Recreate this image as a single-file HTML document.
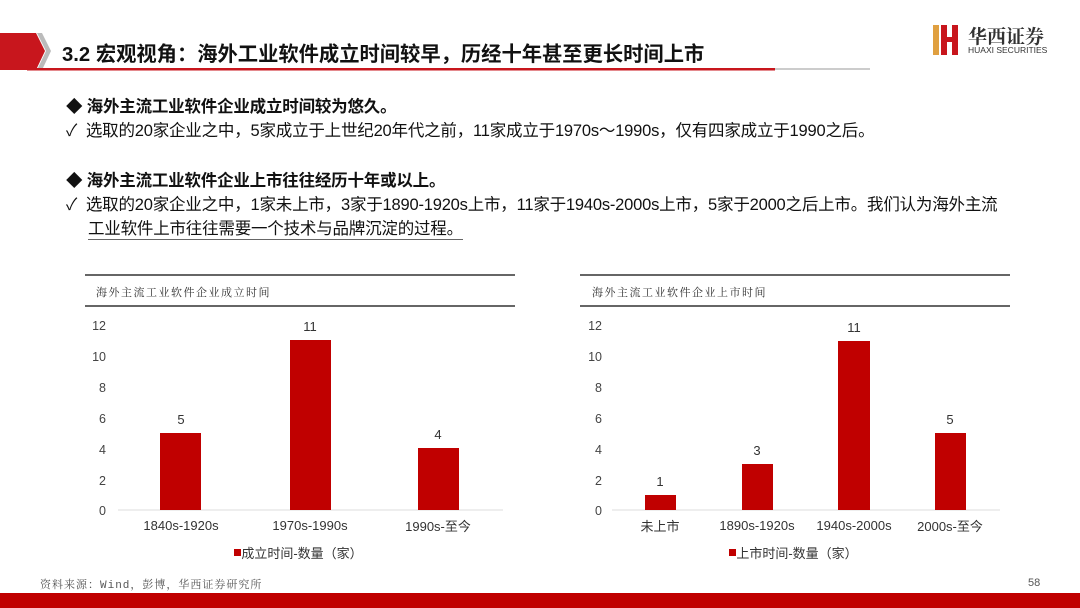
<!DOCTYPE html>
<html><head><meta charset="utf-8"><style>
body{margin:0;width:1080px;height:608px;position:relative;background:#fff;overflow:hidden;font-family:"Liberation Sans","Noto Sans CJK SC",sans-serif;color:#111}
.a{position:absolute;white-space:nowrap}
.t{font-size:16.5px;letter-spacing:-0.2px;line-height:20px}
.b{font-weight:bold}
</style></head><body>
<svg class="a" style="left:0;top:0" width="1080" height="608">
<polygon points="0,33 36,33 45,51 36,70 0,70" fill="#c8161d"/>
<polygon points="37,33 42,33 51,51 42,70 37,70 46,51" fill="#bbb"/>
<rect x="27" y="68" width="748" height="2.5" fill="#c8161d"/>
<rect x="775" y="68" width="95" height="2" fill="#ccc"/>
<rect x="933" y="25" width="6" height="30" fill="#e0a040"/>
<rect x="941" y="25" width="6" height="30" fill="#c8161d"/>
<rect x="952" y="25" width="6" height="30" fill="#c8161d"/>
<rect x="941" y="37" width="17" height="5" fill="#c8161d"/>
<line x1="85" y1="275" x2="515" y2="275" stroke="#333" stroke-width="1.5"/>
<line x1="85" y1="306" x2="515" y2="306" stroke="#333" stroke-width="1.5"/>
<line x1="580" y1="275" x2="1010" y2="275" stroke="#333" stroke-width="1.5"/>
<line x1="580" y1="306" x2="1010" y2="306" stroke="#333" stroke-width="1.5"/>
<line x1="118" y1="510" x2="503" y2="510" stroke="#ddd"/>
<line x1="612" y1="510" x2="1000" y2="510" stroke="#ddd"/>
<g fill="#c00000">
<rect x="160" y="433" width="41" height="77"/>
<rect x="290" y="340" width="41" height="170"/>
<rect x="418" y="448" width="41" height="62"/>
<rect x="645" y="495" width="31" height="15"/>
<rect x="742" y="464" width="31" height="46"/>
<rect x="838" y="341" width="32" height="169"/>
<rect x="935" y="433" width="31" height="77"/>
<rect x="234" y="549" width="7" height="7"/>
<rect x="729" y="549" width="7" height="7"/>
</g>
<g font-size="12.5" fill="#444" text-anchor="end">
<text x="106" y="330">12</text><text x="106" y="361">10</text><text x="106" y="392">8</text><text x="106" y="423">6</text><text x="106" y="454">4</text><text x="106" y="485">2</text><text x="106" y="515">0</text>
<text x="602" y="330">12</text><text x="602" y="361">10</text><text x="602" y="392">8</text><text x="602" y="423">6</text><text x="602" y="454">4</text><text x="602" y="485">2</text><text x="602" y="515">0</text>
</g>
<g font-size="13" fill="#333" text-anchor="middle">
<text x="181" y="424">5</text><text x="310" y="331">11</text><text x="438" y="439">4</text>
<text x="660" y="486">1</text><text x="757" y="455">3</text><text x="854" y="332">11</text><text x="950" y="424">5</text>
<text x="181" y="530">1840s-1920s</text><text x="310" y="530">1970s-1990s</text><text x="438" y="531">1990s-至今</text>
<text x="660" y="531">未上市</text><text x="757" y="530">1890s-1920s</text><text x="854" y="530">1940s-2000s</text><text x="950" y="531">2000s-至今</text>
<text x="302" y="558">成立时间-数量（家）</text><text x="797" y="558">上市时间-数量（家）</text>
</g>
<rect x="0" y="593" width="1080" height="15" fill="#c00000"/>
</svg>
<div class="a b" style="left:62px;top:37px;font-size:20.3px">3.2 宏观视角：海外工业软件成立时间较早，历经十年甚至更长时间上市</div>
<div class="a b" style="left:968px;top:22px;font-size:19px;font-family:'Noto Serif CJK SC',serif;color:#333">华西证券</div>
<div class="a" style="left:968px;top:45px;font-size:8.5px;color:#333">HUAXI SECURITIES</div>
<div class="a t b" style="left:66px;top:97px">◆&nbsp;海外主流工业软件企业成立时间较为悠久。</div>
<div class="a t" style="left:66px;top:121px">✓&nbsp; 选取的20家企业之中，5家成立于上世纪20年代之前，11家成立于1970s～1990s，仅有四家成立于1990之后。</div>
<div class="a t b" style="left:66px;top:171px">◆&nbsp;海外主流工业软件企业上市往往经历十年或以上。</div>
<div class="a t" style="left:66px;top:195px">✓&nbsp; 选取的20家企业之中，1家未上市，3家于1890-1920s上市，11家于1940s-2000s上市，5家于2000之后上市。我们认为海外主流</div>
<div class="a t" style="left:88px;top:219px;border-bottom:1px solid #666">工业软件上市往往需要一个技术与品牌沉淀的过程。</div>
<div class="a" style="left:96px;top:284px;font-size:11px;color:#333;letter-spacing:1.5px;font-family:'Noto Serif CJK SC',serif">海外主流工业软件企业成立时间</div>
<div class="a" style="left:592px;top:284px;font-size:11px;color:#333;letter-spacing:1.5px;font-family:'Noto Serif CJK SC',serif">海外主流工业软件企业上市时间</div>
<div class="a" style="left:40px;top:576px;font-size:11px;color:#555;letter-spacing:1px;font-family:'Liberation Mono','Noto Serif CJK SC',monospace">资料来源：Wind，彭博，华西证券研究所</div>
<div class="a" style="left:1028px;top:577px;font-size:11px;color:#555">58</div>
</body></html>
